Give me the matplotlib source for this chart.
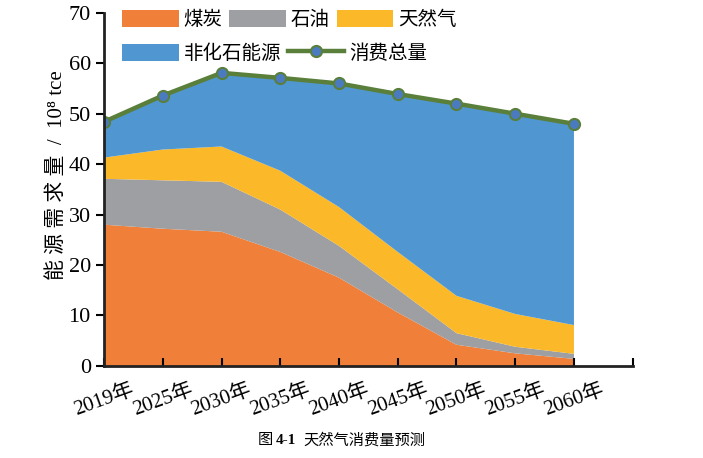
import matplotlib.pyplot as plt
import numpy as np

plt.rcParams['font.family'] = ['Liberation Serif', 'Noto Sans CJK SC', 'DejaVu Sans']

years = ['2019年', '2025年', '2030年', '2035年', '2040年', '2045年', '2050年', '2055年', '2060年']
coal = [28.0, 27.2, 26.6, 22.6, 17.5, 10.6, 4.2, 2.5, 1.4]
oil = [9.1, 9.6, 9.9, 8.4, 6.3, 4.6, 2.3, 1.3, 1.0]
gas = [4.2, 6.1, 7.0, 7.7, 7.7, 7.4, 7.4, 6.5, 5.7]
total = [48.4, 53.6, 58.1, 57.1, 56.0, 53.9, 52.0, 50.0, 48.0]
nonfossil = [t - c - o - g for t, c, o, g in zip(total, coal, oil, gas)]

colors = ['#F07F3A', '#9E9FA3', '#FBB829', '#5097D1']
labels = ['煤炭', '石油', '天然气', '非化石能源']

fig = plt.figure(figsize=(7.03, 4.58), dpi=100)
ax = fig.add_axes([0.148, 0.201, 0.752, 0.771])

x = np.arange(len(years))
polys = ax.stackplot(x, coal, oil, gas, nonfossil, colors=colors, labels=labels, linewidth=0)
line, = ax.plot(x, total, color='#5A7F3B', lw=3.2, marker='o', markersize=8,
                markerfacecolor='#4A7BC0', markeredgecolor='#5A7F3B', markeredgewidth=1.5,
                label='消费总量')

ax.set_xlim(0, 9)
ax.set_ylim(0, 70)
ax.set_xticks(np.arange(10))
ax.set_xticklabels(years + [''], rotation=20, ha='center', fontsize=15)
ax.set_yticks(np.arange(0, 71, 10))
ax.tick_params(axis='y', labelsize=16, direction='out', length=6, width=1.5)
ax.tick_params(axis='x', direction='in', length=6, width=1.5, pad=10)
for s in ['top', 'right']:
    ax.spines[s].set_visible(False)
for s in ['left', 'bottom']:
    ax.spines[s].set_linewidth(2)
    ax.spines[s].set_color('#222222')

ax.set_ylabel('能 源 需 求 量  /  10⁸ tce', fontsize=15)
ax.yaxis.set_label_coords(-0.07, 0.54)

leg_kw = dict(loc='upper left', frameon=False, fontsize=14, handlelength=2.9,
              handleheight=1.0, handletextpad=0.25, columnspacing=0.35, borderaxespad=0)
leg1 = ax.legend(handles=list(polys[:3]), labels=labels[:3], ncol=3,
                 bbox_to_anchor=(0.02, 1.03), **leg_kw)
ax.add_artist(leg1)
ax.legend(handles=[polys[3], line], labels=['非化石能源', '消费总量'], ncol=2,
          bbox_to_anchor=(0.02, 0.935), **leg_kw)

fig.text(0.367, 0.038, '图', fontsize=11, ha='left', va='center')
fig.text(0.392, 0.038, '4-1', fontsize=11, ha='left', va='center', weight='bold')
fig.text(0.432, 0.038, '天然气消费量预测', fontsize=11, ha='left', va='center')

fig.savefig('out.png', dpi=100)
